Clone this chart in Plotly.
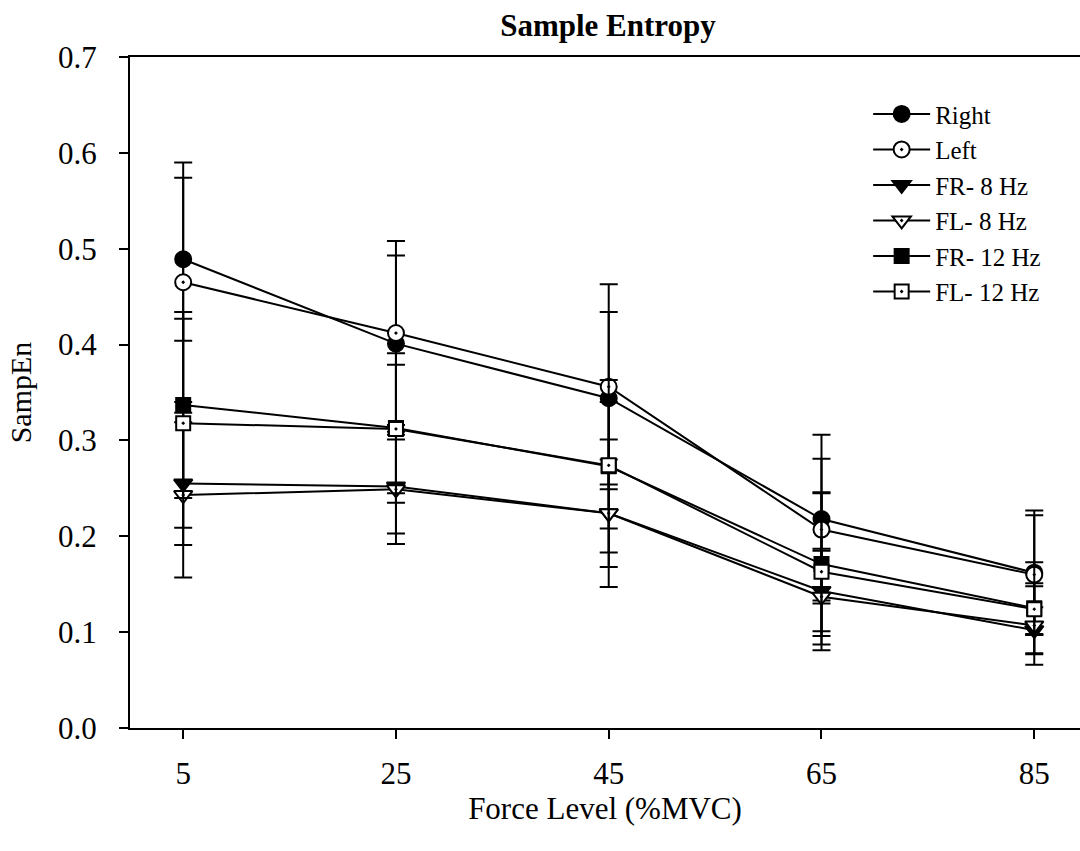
import plotly.graph_objects as go

force = [5, 25, 45, 65, 85]
tick_vals_y = [0.0, 0.1, 0.2, 0.3, 0.4, 0.5, 0.6, 0.7]

names = ["Right", "Left", "FR- 8 Hz", "FL- 8 Hz", "FR- 12 Hz", "FL- 12 Hz"]

right = [0.489, 0.401, 0.344, 0.218, 0.162]
left = [0.465, 0.412, 0.356, 0.207, 0.160]
fr8 = [0.255, 0.252, 0.224, 0.143, 0.102]
fl8 = [0.243, 0.249, 0.224, 0.137, 0.107]
fr12 = [0.337, 0.313, 0.273, 0.171, 0.125]
fl12 = [0.318, 0.312, 0.274, 0.163, 0.124]

right_sd = [0.085, 0.092, 0.090, 0.088, 0.065]
left_sd = [0.125, 0.096, 0.107, 0.074, 0.062]
fr8_sd = [0.064, 0.049, 0.077, 0.042, 0.024]
fl8_sd = [0.086, 0.057, 0.056, 0.050, 0.041]
fr12_sd = [0.097, 0.078, 0.090, 0.075, 0.048]
fl12_sd = [0.109, 0.067, 0.066, 0.082, 0.027]

values = [right, left, fr8, fl8, fr12, fl12]
sds = [right_sd, left_sd, fr8_sd, fl8_sd, fr12_sd, fl12_sd]
symbols = ["circle", "circle-dot", "triangle-down", "triangle-down-dot", "square", "square-dot"]
fills = ["black", "white", "black", "white", "black", "white"]
sizes = [16, 16, 16, 16, 14, 14]

FONT = "Liberation Serif, Times New Roman, serif"

fig = go.Figure()
for name, v, sd, sym, fc, sz in zip(names, values, sds, symbols, fills, sizes):
    fig.add_trace(go.Scatter(
        x=force, y=v, name=name, mode="lines+markers",
        line=dict(color="black", width=2),
        marker=dict(symbol=sym, size=sz, color=fc, line=dict(color="black", width=2)),
        error_y=dict(type="data", array=sd, visible=True, color="black", thickness=2, width=9),
    ))

fig.update_layout(
    width=1080, height=851,
    margin=dict(l=130, r=0, t=57, b=123),
    paper_bgcolor="white", plot_bgcolor="white",
    font=dict(family=FONT, color="black", size=30),
    title=dict(text="<b>Sample Entropy</b>", x=(608) / 1080, xanchor="center",
               y=1 - 25 / 851, yanchor="middle", font=dict(size=31, family=FONT)),
    showlegend=True,
    legend=dict(x=0.777, y=0.949, xanchor="left", yanchor="top",
                font=dict(size=25, family=FONT), bgcolor="rgba(0,0,0,0)",
                tracegroupgap=0, itemwidth=57),
)
fig.update_xaxes(
    range=[0, 89.3], tickvals=force, ticktext=[str(f) for f in force],
    showline=True, linecolor="black", linewidth=2, mirror=True,
    ticks="outside", ticklen=9, tickwidth=2, tickcolor="black",
    showgrid=False, zeroline=False, tickfont=dict(size=31),
    ticklabelstandoff=8,
    title=dict(text="Force Level (%MVC)", font=dict(size=31), standoff=3),
)
fig.update_yaxes(
    range=[0, 0.7], tickvals=tick_vals_y, ticktext=[f"{t:.1f}" for t in tick_vals_y],
    showline=True, linecolor="black", linewidth=2,
    ticks="outside", ticklen=9, tickwidth=2, tickcolor="black",
    showgrid=False, zeroline=False, tickfont=dict(size=31),
    ticklabelstandoff=16,
    title=dict(text="SampEn", font=dict(size=30), standoff=18),
)

fig.write_html("out.html")
